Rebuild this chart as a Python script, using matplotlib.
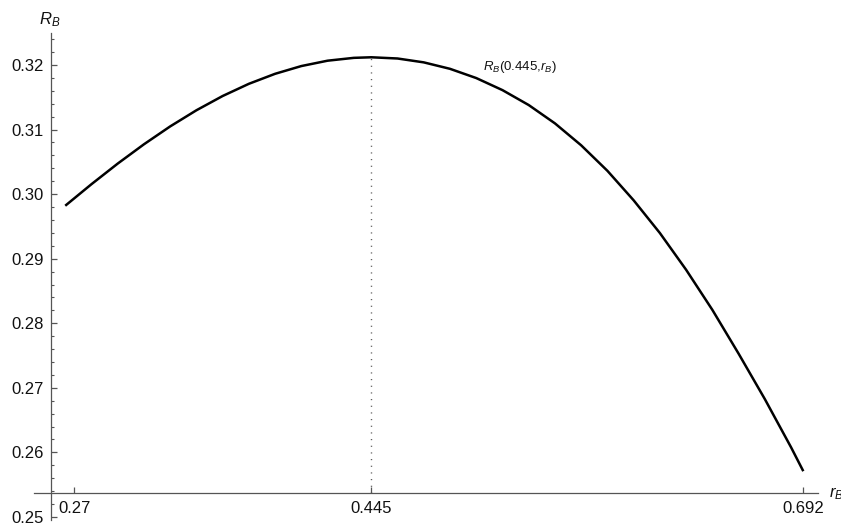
import matplotlib
matplotlib.use("Agg")
import matplotlib.pyplot as plt
from matplotlib.ticker import MultipleLocator, FixedLocator, FixedFormatter, FormatStrFormatter

plt.rcParams['font.family'] = ['Liberation Sans', 'DejaVu Sans']
plt.rcParams['mathtext.fontset'] = 'custom'
plt.rcParams['mathtext.rm'] = 'Liberation Sans'
plt.rcParams['mathtext.it'] = 'Liberation Sans:italic'
plt.rcParams['mathtext.bf'] = 'Liberation Sans:bold'

# Data read (estimated) from the reference curve
r_B = [0.270, 0.285, 0.300, 0.315, 0.330, 0.345, 0.360, 0.375, 0.390, 0.405,
       0.420, 0.435, 0.445, 0.460, 0.475, 0.490, 0.505, 0.520, 0.535, 0.550,
       0.565, 0.580, 0.595, 0.610, 0.625, 0.640, 0.655, 0.670, 0.685, 0.692]
R_B = [0.2982, 0.30154, 0.30473, 0.30772, 0.31049, 0.31299, 0.3152, 0.31709, 0.31864, 0.31984,
       0.32067, 0.32111, 0.3212, 0.32101, 0.32041, 0.31941, 0.31798, 0.31611, 0.3138, 0.31096,
       0.30756, 0.30361, 0.29904, 0.29397, 0.28828, 0.28207, 0.27529, 0.26825, 0.26078, 0.25708]
r_peak = 0.445
R_peak = 0.3212

x_tick_pos = [0.2752, 0.445, 0.692]
x_tick_labels = ["0.27", "0.445", "0.692"]

x_limits = (0.25214, 0.70040)
y_limits = (0.24952, 0.32496)
x_axis_at = 0.25365
y_axis_at = 0.26187

W, H = 841, 526
fig = plt.figure(figsize=(W / 100, H / 100), dpi=100)
ax = fig.add_axes([34 / W, 1 - 520 / H, (818 - 34) / W, (520 - 33) / H])
ax.set_xlim(*x_limits)
ax.set_ylim(*y_limits)

axis_col = '#555555'
for s in ['top', 'right']:
    ax.spines[s].set_visible(False)
ax.spines['left'].set_position(('data', y_axis_at))
ax.spines['bottom'].set_position(('data', x_axis_at))
for s in ['left', 'bottom']:
    ax.spines[s].set_color(axis_col)
    ax.spines[s].set_linewidth(0.9)

ax.plot(r_B, R_B, color='black', lw=1.8, solid_capstyle='butt', solid_joinstyle='round', zorder=3)
ax.vlines(r_peak, x_axis_at, R_peak, colors='#555555', lw=1.0,
          linestyles=(0, (0.8, 4.0)), zorder=2)

ax.yaxis.set_major_locator(MultipleLocator(0.01))
ax.yaxis.set_minor_locator(MultipleLocator(0.002))
ax.yaxis.set_major_formatter(FormatStrFormatter('%.2f'))
ax.xaxis.set_major_locator(FixedLocator(x_tick_pos))
ax.xaxis.set_major_formatter(FixedFormatter(x_tick_labels))
ax.xaxis.set_minor_locator(FixedLocator([]))

ax.tick_params(axis='y', which='major', direction='in', length=4.5, width=0.9,
               color=axis_col, labelsize=12, pad=5.5, labelcolor='#111111')
ax.tick_params(axis='y', which='minor', direction='in', length=2.5, width=0.8, color=axis_col)
ax.tick_params(axis='x', which='major', direction='in', length=4.5, width=0.9,
               color=axis_col, labelsize=12, pad=5.5, labelcolor='#111111')

fig.text(39 / W, 1 - 24 / H, r'$R_B$', fontsize=12, ha='left', va='baseline', color='#111111')
fig.text(829 / W, 1 - 497 / H, r'$r_B$', fontsize=12, ha='left', va='baseline', color='#111111')
fig.text(519.5 / W, 1 - 67 / H, r'$R_B(0.445{,}r_B)$', fontsize=9.5, ha='center', va='center', color='#111111')

fig.savefig('out.png', dpi=100)
